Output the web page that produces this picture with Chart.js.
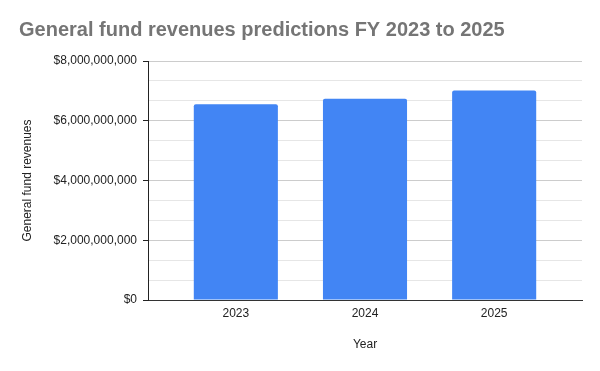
<!DOCTYPE html>
<html>
<head>
<meta charset="utf-8">
<script src="https://cdn.jsdelivr.net/npm/chart.js@4"></script>
<style>
  html, body { margin: 0; padding: 0; background: #fff; }
  #wrap { width: 600px; height: 371px; }
</style>
</head>
<body>
<div id="wrap"><canvas id="c" width="600" height="371"></canvas></div>
<script>
const years = ['2023', '2024', '2025'];
const revenues = [6550000000, 6740000000, 7010000000];
const yTickStep = 2000000000 / 3;
const yMax = 8000000000;
const titleText = 'General fund revenues predictions FY 2023 to 2025';
const yTitle = 'General fund revenues';
const xTitle = 'Year';

const FONT = "'Liberation Sans', Arial, sans-serif";

const chart = new Chart(document.getElementById('c'), {
  type: 'bar',
  data: {
    datasets: [{
      data: years.map((y, i) => ({ x: i, y: revenues[i] })),
      backgroundColor: '#4285F4',
      borderRadius: 2,
      borderSkipped: 'start',
      inflateAmount: 0,
      categoryPercentage: 1,
      barPercentage: 0.651
    }]
  },
  options: {
    responsive: false,
    animation: false,
    layout: { padding: { left: 19, right: 18, top: 0, bottom: 0 } },
    plugins: {
      legend: { display: false },
      tooltip: { enabled: false },
      title: {
        display: true,
        text: titleText,
        align: 'start',
        color: '#757575',
        font: { family: FONT, size: 20, weight: 'bold' },
        padding: { top: 18.5, bottom: 18.5 }
      }
    },
    scales: {
      x: {
        type: 'linear',
        offset: false,
        z: 1,
        min: -0.68,
        max: 2.68,
        afterBuildTicks: (s) => { s.ticks = years.map((_, i) => ({ value: i })); },
        afterFit: (s) => { s.height = 71; },
        grid: { display: false, drawTicks: false, offset: false },
        border: { display: true, color: '#333333', width: 1 },
        ticks: {
          padding: 6,
          color: '#222222',
          font: { family: FONT, size: 12 },
          callback: (v) => years[v] !== undefined ? years[v] : ''
        },
        title: {
          display: true,
          text: xTitle,
          color: '#222222',
          font: { family: FONT, size: 12 },
          padding: { top: 0, bottom: 19.5 }
        }
      },
      y: {
        min: 0,
        max: yMax,
        afterBuildTicks: (s) => {
          const t = [];
          for (let i = 0; i <= 12; i++) t.push({ value: i * yTickStep });
          s.ticks = t;
        },
        afterFit: (s) => { s.width = 129; },
        grid: {
          color: (ctx) => (ctx.index % 3 === 0 ? '#cccccc' : '#e6e6e6'),
          tickColor: (ctx) => (ctx.index % 3 === 0 ? '#222222' : 'rgba(0,0,0,0)'),
          tickLength: 5,
          lineWidth: 1
        },
        border: { display: true, color: '#222222', width: 1 },
        ticks: {
          padding: 6,
          color: '#222222',
          font: { family: FONT, size: 12 },
          autoSkip: false,
          callback: (v, i) => (i % 3 === 0 ? '$' + Math.round(v).toLocaleString('en-US') : '')
        },
        title: {
          display: true,
          text: yTitle,
          color: '#222222',
          font: { family: FONT, size: 12 },
          padding: { top: 1, bottom: 0 }
        }
      }
    }
  }
});
</script>
</body>
</html>
